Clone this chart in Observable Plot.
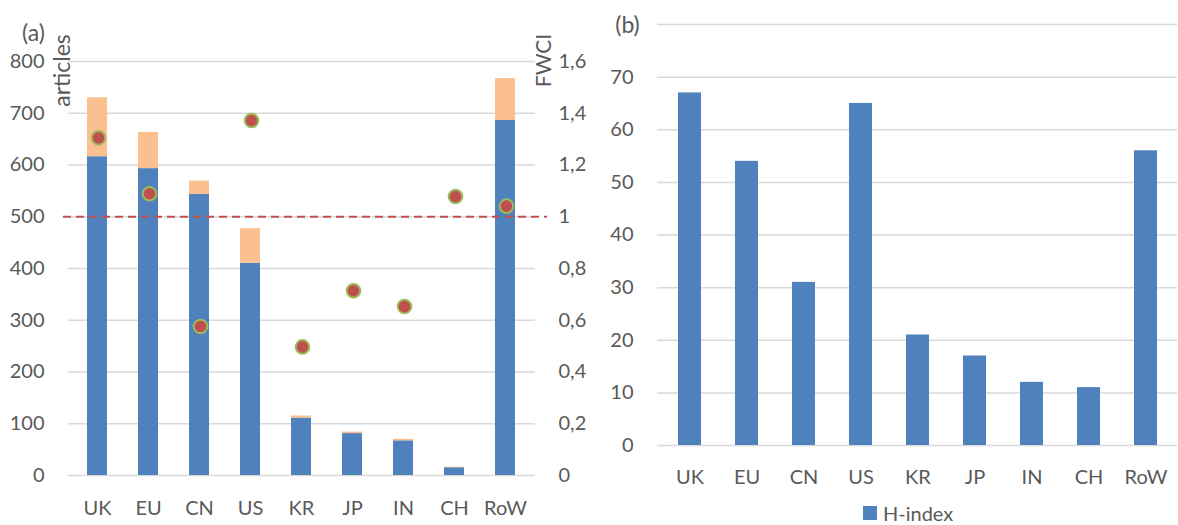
<!DOCTYPE html>
<html>
<head>
<meta charset="utf-8">
<script src="https://cdn.jsdelivr.net/npm/d3@7"></script>
<script src="https://cdn.jsdelivr.net/npm/@observablehq/plot@0.6"></script>
<style>
  html, body { margin: 0; padding: 0; background: #fff; }
  #page { position: relative; width: 1178px; height: 525px; overflow: hidden; font-family: Lato, sans-serif; color: #595959; }
  #left, #leftOverlay { position: absolute; left: 0; top: 0; }
  #right { position: absolute; left: 590px; top: 0; }
  #legend { position: absolute; left: 863px; top: 501px; display: flex; align-items: center; gap: 6px; font-size: 20px; color: #595959; font-family: Lato, sans-serif; }
  #legend .sw { width: 14px; height: 14px; background: #4f81bd; }
  svg { overflow: visible; }
</style>
</head>
<body>
<div id="page">
  <div id="left"></div>
  <div id="leftOverlay"></div>
  <div id="right"></div>
  <div id="legend"><span class="sw"></span><span>H-index</span></div>
</div>
<script>
const countries = ["UK", "EU", "CN", "US", "KR", "JP", "IN", "CH", "RoW"];
const articlesBase = [616, 593, 543, 410, 111, 81, 67, 15, 686];
const articlesExtra = [114, 70, 26, 67, 4, 3, 3, 1, 81];
const fwci = [1.305, 1.089, 0.576, 1.372, 0.497, 0.714, 0.653, 1.078, 1.041];
const hIndex = [67, 54, 31, 65, 21, 17, 12, 11, 56];

const articleTicks = [0, 100, 200, 300, 400, 500, 600, 700, 800];
const fwciTicks = [0, 0.2, 0.4, 0.6, 0.8, 1, 1.2, 1.4, 1.6];
const fwciTickLabels = ["0", "0,2", "0,4", "0,6", "0,8", "1", "1,2", "1,4", "1,6"];
const hTicks = [0, 10, 20, 30, 40, 50, 60, 70];
const hGrid = [0, 10, 20, 30, 40, 50, 60, 70, 80];

const BLUE = "#4f81bd", ORANGE = "#fac090", RED = "#c0504d", GREEN = "#9bbb59", GRID = "#d9d9d9", TEXT = "#595959";

const stackRows = countries.flatMap((c, i) => [
  {country: c, part: "base", value: articlesBase[i]},
  {country: c, part: "extra", value: articlesExtra[i]}
]);
const fwciRows = countries.map((c, i) => ({country: c, fwci: fwci[i]}));
const hRows = countries.map((c, i) => ({country: c, h: hIndex[i]}));

const leftMargins = {marginLeft: 68, marginRight: 55, marginTop: 61, marginBottom: 50};
const xBand = {domain: countries, paddingInner: 0.6, paddingOuter: 0.3};
const baseStyle = {fontFamily: "Lato, sans-serif", fontSize: "20px", color: TEXT, background: "transparent", overflow: "visible"};

const left = Plot.plot({
  width: 590, height: 525, ...leftMargins,
  style: baseStyle,
  x: {...xBand, axis: null},
  y: {domain: [0, 800], axis: null},
  color: {domain: ["base", "extra"], range: [BLUE, ORANGE]},
  marks: [
    Plot.gridY(articleTicks, {stroke: GRID, strokeOpacity: 1, strokeWidth: 1.5}),
    Plot.barY(stackRows, {x: "country", y: "value", fill: "part"}),
    Plot.axisY({ticks: articleTicks, tickSize: 0, tickPadding: 24, label: null, fontSize: 20}),
    Plot.axisX({tickSize: 0, tickPadding: 25, label: null, fontSize: 20}),
    Plot.text(["(a)"], {frameAnchor: "top-left", dx: -35, dy: -28, fontSize: 23, textAnchor: "middle", lineAnchor: "middle", fill: TEXT}),
    Plot.text(["articles"], {frameAnchor: "top-left", dx: -6, dy: 9, rotate: -90, fontSize: 23, textAnchor: "middle", lineAnchor: "middle", fill: TEXT})
  ]
});
document.getElementById("left").appendChild(left);

const overlay = Plot.plot({
  width: 590, height: 525, ...leftMargins,
  style: baseStyle,
  x: {...xBand, axis: null},
  y: {domain: [0, 1.6], axis: null},
  marks: [
    Plot.ruleY([1], {stroke: RED, strokeWidth: 2, strokeDasharray: "8,5", insetLeft: -5, insetRight: -12}),
    Plot.dot(fwciRows, {x: "country", y: "fwci", r: 6.8, fill: RED, stroke: GREEN, strokeWidth: 2}),
    Plot.axisY({anchor: "right", ticks: fwciTicks, tickFormat: d => fwciTickLabels[fwciTicks.indexOf(d)], tickSize: 0, tickPadding: 23, label: null, fontSize: 20}),
    Plot.text(["FWCI"], {frameAnchor: "top-right", dx: 9, dy: -1, rotate: -90, fontSize: 21, textAnchor: "middle", lineAnchor: "middle", fill: TEXT})
  ]
});
document.getElementById("leftOverlay").appendChild(overlay);

const right = Plot.plot({
  width: 588, height: 490,
  marginLeft: 67, marginRight: 1, marginTop: 24, marginBottom: 45,
  style: baseStyle,
  x: {...xBand, axis: null},
  y: {domain: [0, 80], axis: null},
  marks: [
    Plot.gridY(hGrid, {stroke: GRID, strokeOpacity: 1, strokeWidth: 1.5}),
    Plot.barY(hRows, {x: "country", y: "h", fill: BLUE}),
    Plot.axisY({ticks: hTicks, tickSize: 0, tickPadding: 24, label: null, fontSize: 20}),
    Plot.axisX({tickSize: 0, tickPadding: 24, label: null, fontSize: 20}),
    Plot.text(["(b)"], {frameAnchor: "top-left", dx: -30, dy: 1, fontSize: 23, textAnchor: "middle", lineAnchor: "middle", fill: TEXT})
  ]
});
document.getElementById("right").appendChild(right);
</script>
</body>
</html>
